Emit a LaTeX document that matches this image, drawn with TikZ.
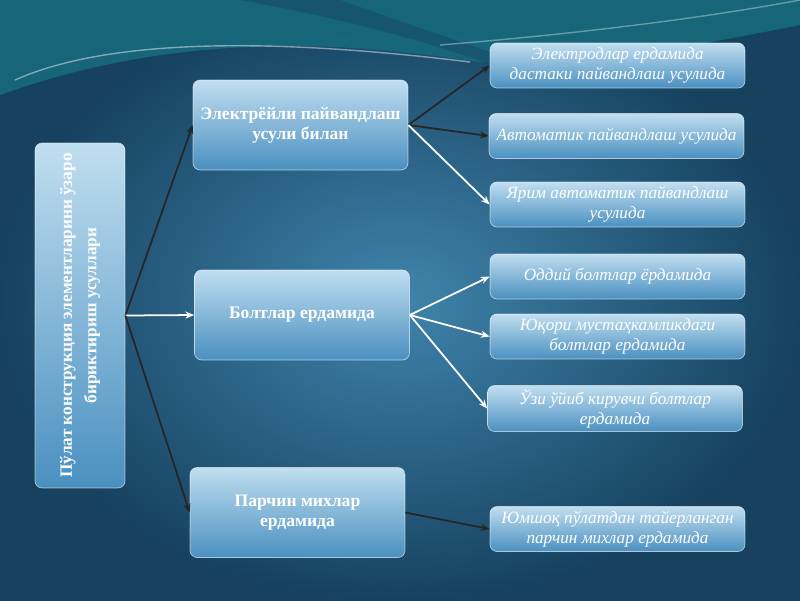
\documentclass[tikz,border=0pt]{standalone}
\usepackage{fontspec}
\setmainfont{Liberation Serif}
\usetikzlibrary{arrows.meta}

\definecolor{bgdark}{RGB}{22,66,96}
\definecolor{bglight}{RGB}{64,132,172}
\definecolor{wave}{RGB}{22,110,128}
\definecolor{boxtop}{RGB}{192,222,240}
\definecolor{boxbot}{RGB}{74,144,192}

\tikzset{
  box/.style={rounded corners=4pt, draw=white, draw opacity=0.6, line width=0.4pt,
    top color=boxtop, bottom color=boxbot, text=white, align=center, inner sep=2pt},
  midbox/.style={box, minimum width=4.3cm, minimum height=1.8cm,
    font=\bfseries\fontsize{10}{11.5}\selectfont},
  subbox/.style={box, minimum width=5.1cm, minimum height=0.9cm,
    font=\itshape\fontsize{9.8}{11.5}\selectfont},
  blk/.style={draw=black!85, line width=1pt, -{Stealth[length=5pt,width=4pt]}},
  wht/.style={draw=white, line width=1pt, -{Stealth[length=5pt,width=4pt]}},
}

\begin{document}
\begin{tikzpicture}[x=0.02cm, y=-0.02cm]
  \useasboundingbox (0,0) rectangle (800,600);
  % background
  \shade[inner color=bglight, outer color=bgdark] (0,0) rectangle (800,600);
  \fill[wave, opacity=0.8] (0,0) -- (800,0) -- (800,25) .. controls (650,55) and (560,68) .. (480,62)
    .. controls (350,42) and (180,30) .. (0,95) -- cycle;
  \fill[bgdark, opacity=0.45] (240,0) .. controls (350,20) and (420,40) .. (490,64)
    -- (490,52) .. controls (420,28) .. (340,0) -- cycle;
  \draw[white, opacity=0.45, line width=0.8pt] (15,80) .. controls (100,42) and (250,35) .. (470,62);
  \draw[white, opacity=0.35, line width=0.8pt] (440,45) .. controls (600,32) and (720,15) .. (800,0);

  % left box
  \node[box, rotate=90, minimum width=6.9cm, minimum height=1.8cm,
    font=\bfseries\fontsize{9.8}{14}\selectfont] (lb) at (80,315.5)
    {Пўлат конструкция элементларини ўзаро\\ бириктириш усуллари};

  % middle boxes
  \node[midbox] (m1) at (300.5,125) {Электрёйли пайвандлаш\\ усули билан};
  \node[midbox] (m2) at (302,315) {Болтлар ердамида};
  \node[midbox] (m3) at (297.5,512.5) {Парчин михлар\\ ердамида};

  % right boxes
  \node[subbox] (r1) at (617.5,65.5) {Электродлар ердамида\\ дастаки пайвандлаш усулида};
  \node[subbox] (r2) at (616.5,136) {Автоматик пайвандлаш усулида};
  \node[subbox] (r3) at (617.5,204.5) {Ярим автоматик пайвандлаш\\ усулида};
  \node[subbox] (r4) at (617.5,276.5) {Оддий болтлар ёрдамида};
  \node[subbox] (r5) at (617.5,336.5) {Юқори мустаҳкамликдаги\\ болтлар ердамида};
  \node[subbox] (r6) at (615,408.5) {Ўзи ўйиб кирувчи болтлар\\ ердамида};
  \node[subbox] (r7) at (617.5,529) {Юмшоқ пўлатдан тайерланган\\ парчин михлар ердамида};

  % connectors
  \draw[blk] (lb.south) -- (m1.west);
  \draw[wht] (lb.south) -- (m2.west);
  \draw[blk] (lb.south) -- (m3.west);
  \draw[blk] (m1.east) -- (r1.west);
  \draw[blk] (m1.east) -- (r2.west);
  \draw[wht] (m1.east) -- (r3.west);
  \draw[wht] (m2.east) -- (r4.west);
  \draw[wht] (m2.east) -- (r5.west);
  \draw[wht] (m2.east) -- (r6.west);
  \draw[blk] (m3.east) -- (r7.west);
\end{tikzpicture}
\end{document}
